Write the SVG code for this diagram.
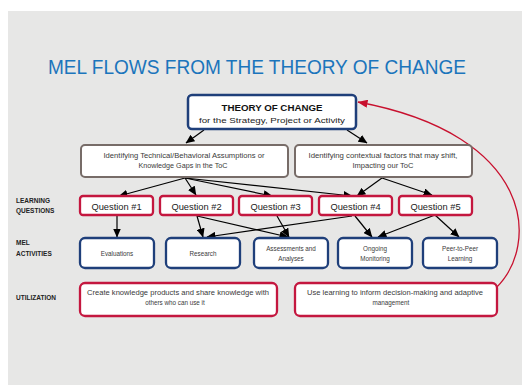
<svg xmlns="http://www.w3.org/2000/svg" width="522" height="391" viewBox="0 0 522 391">
<defs>
<marker id="ah" markerUnits="userSpaceOnUse" markerWidth="9" markerHeight="8" refX="8.5" refY="4" orient="auto"><path d="M0,0 L9,4 L0,8 Z" fill="#000"/></marker>
<marker id="ahr" markerUnits="userSpaceOnUse" markerWidth="10" markerHeight="8" refX="9.5" refY="4" orient="auto"><path d="M0,0 L10,4 L0,8 Z" fill="#c8102e"/></marker>
<style>
text{font-family:"Liberation Sans","DejaVu Sans",sans-serif;}
.toc{fill:#fff;stroke:#1f3f7a;stroke-width:2.5;}
.ident{fill:#fff;stroke:#776c68;stroke-width:2;}
.q{fill:#fff;stroke:#c4173f;stroke-width:2.3;}
.act{fill:#fff;stroke:#1f3f7a;stroke-width:2.3;}
.util{fill:#fff;stroke:#c4173f;stroke-width:2.3;}
.lbl{font-size:6.5px;font-weight:bold;fill:#222;}
.small{font-size:6.3px;fill:#3a3a3a;text-anchor:middle;}
.qt{font-size:9.3px;fill:#222;text-anchor:middle;}
.con{stroke:#000;stroke-width:1.2;fill:none;marker-end:url(#ah);}
</style>
</defs>
<rect x="0" y="0" width="522" height="391" fill="#fff"/>
<rect x="8" y="11" width="514" height="374" fill="#e7e7e6"/>
<text x="48" y="74" font-size="19.5" fill="#1b75bc" textLength="418" lengthAdjust="spacingAndGlyphs">MEL FLOWS FROM THE THEORY OF CHANGE</text>

<text class="lbl" x="16" y="203">LEARNING</text>
<text class="lbl" x="16" y="213">QUESTIONS</text>
<text class="lbl" x="16" y="245">MEL</text>
<text class="lbl" x="16" y="256">ACTIVITIES</text>
<text class="lbl" x="16" y="300">UTILIZATION</text>

<g id="connectors">
<path class="con" d="M204,130 L186,143"/>
<path class="con" d="M347,130 L367,143"/>
<path class="con" d="M185,178 L119,196"/>
<path class="con" d="M185,178 L196,195"/>
<path class="con" d="M185,178 L272,196"/>
<path class="con" d="M185,178 L352,196"/>
<path class="con" d="M382,178 L357,196"/>
<path class="con" d="M382,178 L432,195"/>
<path class="con" d="M117,216 L117,237"/>
<path class="con" d="M197,216 L203,237"/>
<path class="con" d="M197,216 L288,237"/>
<path class="con" d="M277,216 L289,237"/>
<path class="con" d="M352,216 L207,237"/>
<path class="con" d="M355,216 L372,237"/>
<path class="con" d="M435,215 L378,237"/>
<path class="con" d="M435,215 L459,237"/>
<path d="M496,288 C540,245 535,135 358,102" fill="none" stroke="#c8102e" stroke-width="1.3" marker-end="url(#ahr)"/>
</g>

<g id="toc">
<rect class="toc" x="188" y="95" width="168" height="34" rx="4"/>
<text x="272" y="111" font-size="9.5" font-weight="bold" fill="#111" text-anchor="middle" textLength="101" lengthAdjust="spacingAndGlyphs">THEORY OF CHANGE</text>
<text x="272" y="123" font-size="8" fill="#222" text-anchor="middle" textLength="146" lengthAdjust="spacingAndGlyphs">for the Strategy, Project or Activity</text>
</g>

<g id="identA">
<rect class="ident" x="81" y="145" width="207" height="32" rx="4"/>
<text class="small" x="184" y="158" textLength="161" lengthAdjust="spacingAndGlyphs">Identifying Technical/Behavioral  Assumptions or</text>
<text class="small" x="183" y="168" textLength="89" lengthAdjust="spacingAndGlyphs">Knowledge Gaps in the ToC</text>
</g>
<g id="identB">
<rect class="ident" x="295" y="145" width="177" height="32" rx="4"/>
<text class="small" x="383" y="158" textLength="149" lengthAdjust="spacingAndGlyphs">Identifying contextual factors that may shift,</text>
<text class="small" x="383" y="168" textLength="61" lengthAdjust="spacingAndGlyphs">Impacting our ToC</text>
</g>

<g id="q1"><rect class="q" x="80" y="196" width="73" height="19" rx="3"/><text class="qt" x="116.5" y="209.5">Question #1</text></g>
<g id="q2"><rect class="q" x="160" y="196" width="73" height="19" rx="3"/><text class="qt" x="196.5" y="209.5">Question #2</text></g>
<g id="q3"><rect class="q" x="239" y="196" width="73" height="19" rx="3"/><text class="qt" x="275.5" y="209.5">Question #3</text></g>
<g id="q4"><rect class="q" x="319" y="196" width="73" height="19" rx="3"/><text class="qt" x="355.5" y="209.5">Question #4</text></g>
<g id="q5"><rect class="q" x="399" y="196" width="73" height="19" rx="3"/><text class="qt" x="435.5" y="209.5">Question #5</text></g>

<g id="evaluations"><rect class="act" x="80" y="238" width="74" height="30" rx="5"/><text class="small" x="117" y="255.5">Evaluations</text></g>
<g id="research"><rect class="act" x="166" y="238" width="74" height="30" rx="5"/><text class="small" x="203" y="255.5">Research</text></g>
<g id="assessments"><rect class="act" x="254" y="238" width="74" height="30" rx="5"/><text class="small" x="291" y="250.5">Assessments and</text><text class="small" x="291" y="260.5">Analyses</text></g>
<g id="monitoring"><rect class="act" x="338" y="238" width="74" height="30" rx="5"/><text class="small" x="375" y="250.5">Ongoing</text><text class="small" x="375" y="260.5">Monitoring</text></g>
<g id="peer"><rect class="act" x="423" y="238" width="74" height="30" rx="5"/><text class="small" x="460" y="250.5">Peer-to-Peer</text><text class="small" x="460" y="260.5">Learning</text></g>

<g id="util1"><rect class="util" x="80" y="283" width="197" height="33" rx="5"/><text class="small" x="178" y="294.5" textLength="182" lengthAdjust="spacingAndGlyphs">Create knowledge products and share knowledge with</text><text class="small" x="175" y="304.5">others who can use it</text></g>
<g id="util2"><rect class="util" x="295" y="283" width="202" height="33" rx="5"/><text class="small" x="395" y="294.5" textLength="176" lengthAdjust="spacingAndGlyphs">Use learning to inform decision-making and adaptive</text><text class="small" x="391" y="304.5">management</text></g>
</svg>
